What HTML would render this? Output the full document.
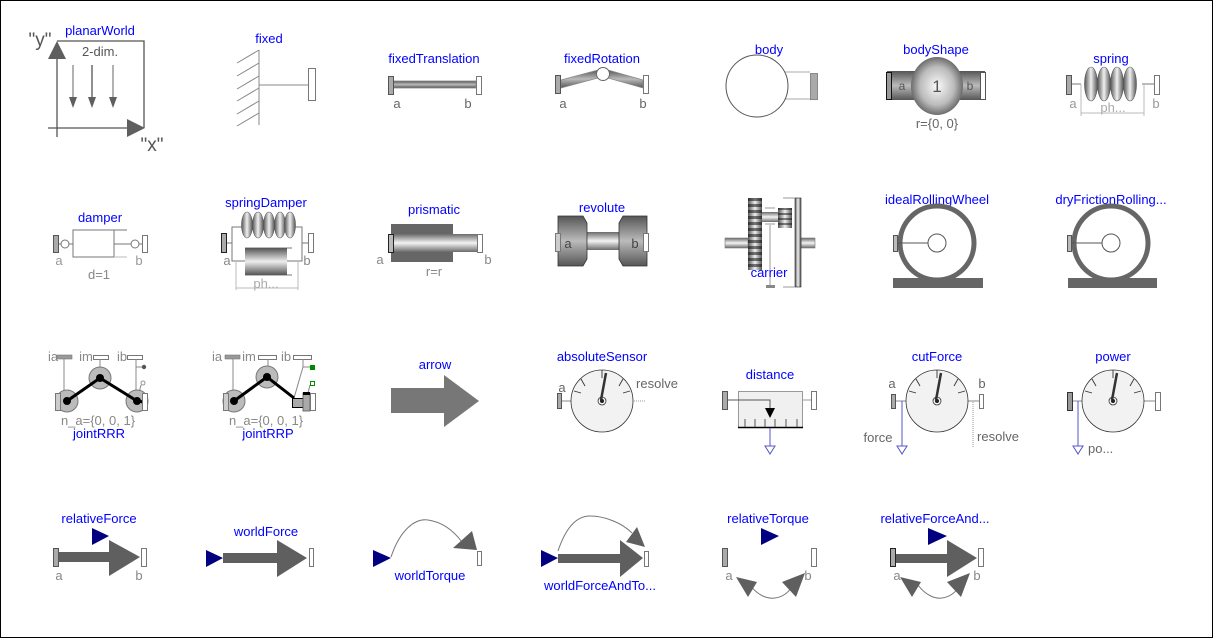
<!DOCTYPE html>
<html><head><meta charset="utf-8"><style>
html,body{margin:0;padding:0;background:#fff;}
svg{display:block;}
text{font-family:"Liberation Sans",Arial,sans-serif;}
.l{fill:#0000ff;font-size:13px;text-anchor:middle;}
.g{fill:#666;font-size:13px;text-anchor:middle;}
</style></head><body>
<svg width="1214" height="639" viewBox="0 0 1214 639" xmlns="http://www.w3.org/2000/svg">
<defs>
<linearGradient id="gv" x1="0" y1="0" x2="0" y2="1"><stop offset="0" stop-color="#6a6a6a"/><stop offset="0.5" stop-color="#f4f4f4"/><stop offset="1" stop-color="#6a6a6a"/></linearGradient>
<linearGradient id="gvd" x1="0" y1="0" x2="0" y2="1"><stop offset="0" stop-color="#555"/><stop offset="0.5" stop-color="#bbb"/><stop offset="1" stop-color="#555"/></linearGradient>
<linearGradient id="gh" x1="0" y1="0" x2="1" y2="0"><stop offset="0" stop-color="#555"/><stop offset="0.5" stop-color="#f0f0f0"/><stop offset="1" stop-color="#555"/></linearGradient>
<radialGradient id="gs" cx="0.5" cy="0.5" r="0.55"><stop offset="0" stop-color="#fafafa"/><stop offset="0.6" stop-color="#bbb"/><stop offset="1" stop-color="#555"/></radialGradient>
<linearGradient id="gc" x1="0" y1="0" x2="0" y2="1"><stop offset="0" stop-color="#555"/><stop offset="0.5" stop-color="#eee"/><stop offset="1" stop-color="#555"/></linearGradient>
</defs>
<rect x="0.5" y="0.5" width="1212" height="637" fill="#fff" stroke="#000"/>

<!-- planarWorld -->
<text x="100" y="35" class="l">planarWorld</text>
<text x="40" y="46" style="fill:#555;font-size:19px;text-anchor:middle">"y"</text>
<text x="152" y="151" style="fill:#555;font-size:19px;text-anchor:middle">"x"</text>
<text x="100" y="56" style="fill:#555;font-size:13px;text-anchor:middle">2-dim.</text>
<g stroke="#555" fill="none" stroke-width="1.3">
<line x1="57" y1="56" x2="57" y2="137"/>
<line x1="48" y1="128" x2="130" y2="128"/>
<polyline points="57,41 144,41 144,128"/>
<line x1="73" y1="65" x2="73" y2="100" stroke="#888"/>
<line x1="92" y1="65" x2="92" y2="100"/>
<line x1="113" y1="65" x2="113" y2="100" stroke="#888"/>
</g>
<g fill="#5f5f5f">
<polygon points="57,41 48,59 66,59"/>
<polygon points="145,128 127,119 127,137"/>
<polygon points="69,97 77,97 73,108"/>
<polygon points="88,97 96,97 92,108"/>
<polygon points="109,97 117,97 113,108"/>
</g>

<!-- fixed -->
<text x="269" y="43" class="l">fixed</text>
<g stroke="#888" stroke-width="1">
<line x1="259" y1="50" x2="259" y2="125"/>
<line x1="237" y1="63" x2="259" y2="50"/>
<line x1="237" y1="76" x2="259" y2="63"/>
<line x1="237" y1="89" x2="259" y2="76"/>
<line x1="237" y1="101" x2="259" y2="88"/>
<line x1="237" y1="114" x2="259" y2="101"/>
<line x1="237" y1="126" x2="259" y2="113"/>
<line x1="259" y1="85" x2="308" y2="85"/>
</g>
<rect x="308.5" y="68.5" width="7" height="32" fill="#fff" stroke="#777"/>

<!-- fixedTranslation -->
<text x="434" y="63" class="l">fixedTranslation</text>
<rect x="393" y="81" width="83" height="7" fill="url(#gvd)" stroke="#888" stroke-width="0.8"/>
<rect x="388.5" y="76.5" width="5" height="18" fill="#aaa" stroke="#555"/>
<rect x="476.5" y="76.5" width="5" height="18" fill="#fff" stroke="#777"/>
<text x="397" y="108" class="g">a</text>
<text x="468" y="108" class="g">b</text>

<!-- fixedRotation -->
<text x="602" y="63" class="l">fixedRotation</text>
<polygon points="561,80 598,70 598,78 561,88" fill="url(#gvd)" stroke="#888" stroke-width="0.8"/>
<polygon points="608,70 643,80 643,88 608,78" fill="url(#gvd)" stroke="#888" stroke-width="0.8"/>
<circle cx="603" cy="74" r="6.5" fill="#fff" stroke="#666"/>
<rect x="555.5" y="75.5" width="5" height="18" fill="#aaa" stroke="#555"/>
<rect x="643.5" y="75.5" width="5" height="18" fill="#fff" stroke="#777"/>
<text x="563" y="108" class="g">a</text>
<text x="643" y="108" class="g">b</text>

<!-- body -->
<text x="769" y="54" class="l">body</text>
<polyline points="776,72 810,72" stroke="#aaa" fill="none"/>
<polyline points="776,99 810,99" stroke="#aaa" fill="none"/>
<circle cx="757" cy="86" r="31" fill="#fff" stroke="#555"/>
<rect x="810.5" y="73.5" width="7" height="26" fill="#aaa" stroke="#888"/>

<!-- bodyShape -->
<text x="936" y="54" class="l">bodyShape</text>
<rect x="887" y="71" width="98" height="29" fill="url(#gvd)"/>
<ellipse cx="937" cy="86" rx="26" ry="29" fill="url(#gs)"/>
<rect x="886.5" y="72.5" width="5" height="27" fill="#999" stroke="#111"/>
<rect x="980.5" y="72.5" width="5" height="27" fill="#fff" stroke="#555"/>
<text x="902" y="90" style="fill:#555;font-size:12px;text-anchor:middle">a</text>
<text x="970" y="90" style="fill:#555;font-size:12px;text-anchor:middle">b</text>
<text x="937" y="92" style="fill:#555;font-size:17px;text-anchor:middle">1</text>
<text x="937" y="128" class="g">r={0, 0}</text>

<!-- spring -->
<text x="1111" y="63" class="l">spring</text>
<g stroke="#777" fill="none">
<line x1="1071" y1="84" x2="1081" y2="84"/>
<line x1="1081" y1="84" x2="1081" y2="116" stroke="#bbb"/>
<line x1="1142" y1="84" x2="1154" y2="84"/>
<line x1="1144" y1="84" x2="1144" y2="116" stroke="#bbb"/>
<line x1="1081" y1="113" x2="1144" y2="113" stroke="#bbb"/>
</g>
<g fill="url(#gh)" stroke="#555" stroke-width="0.6">
<ellipse cx="1091" cy="84" rx="6.5" ry="17"/>
<ellipse cx="1104" cy="84" rx="6.5" ry="17"/>
<ellipse cx="1117" cy="84" rx="6.5" ry="17"/>
<ellipse cx="1130" cy="84" rx="6.5" ry="17"/>
</g>
<rect x="1066.5" y="75.5" width="5" height="19" fill="#aaa" stroke="#555"/>
<rect x="1154.5" y="75.5" width="5" height="19" fill="#fff" stroke="#777"/>
<text x="1073" y="108" style="fill:#999;font-size:13px;text-anchor:middle">a</text>
<text x="1156" y="108" style="fill:#999;font-size:13px;text-anchor:middle">b</text>
<text x="1113" y="112" style="fill:#aaa;font-size:13px;text-anchor:middle">ph...</text>

<!-- damper -->
<text x="100" y="222" class="l">damper</text>
<g stroke="#777" fill="none">
<line x1="59" y1="244" x2="61" y2="244"/>
<circle cx="65" cy="244" r="4" fill="#fff"/>
<line x1="69" y1="244" x2="73" y2="244"/>
<polyline points="127,230 73,230 73,257 114,257"/>
<line x1="114" y1="230" x2="114" y2="257"/>
<line x1="114" y1="257" x2="127" y2="257" stroke="#bbb"/>
<line x1="114" y1="244" x2="131" y2="244"/>
<circle cx="135" cy="244" r="4" fill="#fff"/>
<line x1="139" y1="244" x2="142" y2="244"/>
</g>
<rect x="53.5" y="235.5" width="5" height="17" fill="#aaa" stroke="#555"/>
<rect x="142.5" y="235.5" width="5" height="17" fill="#fff" stroke="#777"/>
<text x="59" y="265" style="fill:#999;font-size:13px;text-anchor:middle">a</text>
<text x="139" y="265" style="fill:#999;font-size:13px;text-anchor:middle">b</text>
<text x="99" y="279" style="fill:#888;font-size:13px;text-anchor:middle">d=1</text>

<!-- springDamper -->
<text x="266" y="207" class="l">springDamper</text>
<g stroke="#777" fill="none">
<line x1="226" y1="243" x2="232" y2="243"/>
<polyline points="242,227 232,227 232,261 245,261"/>
<polyline points="294,227 302,227 302,261 287,261"/>
<line x1="302" y1="243" x2="308" y2="243"/>
<line x1="245" y1="248" x2="292" y2="248"/>
<line x1="245" y1="275" x2="292" y2="275"/>
<line x1="236" y1="262" x2="236" y2="290" stroke="#bbb"/>
<line x1="298" y1="262" x2="298" y2="290" stroke="#bbb"/>
<line x1="236" y1="288" x2="298" y2="288" stroke="#bbb"/>
</g>
<g fill="url(#gh)" stroke="#555" stroke-width="0.6">
<ellipse cx="247" cy="225" rx="5.5" ry="13"/>
<ellipse cx="258" cy="225" rx="5.5" ry="13"/>
<ellipse cx="269" cy="225" rx="5.5" ry="13"/>
<ellipse cx="280" cy="225" rx="5.5" ry="13"/>
<ellipse cx="290" cy="225" rx="5.5" ry="13"/>
</g>
<rect x="245" y="248" width="42" height="27" fill="url(#gc)"/>
<rect x="221.5" y="233.5" width="5" height="19" fill="#aaa" stroke="#222"/>
<rect x="308.5" y="233.5" width="5" height="19" fill="#fff" stroke="#777"/>
<text x="227" y="265" style="fill:#888;font-size:13px;text-anchor:middle">a</text>
<text x="307" y="265" style="fill:#888;font-size:13px;text-anchor:middle">b</text>
<text x="266" y="288" style="fill:#aaa;font-size:13px;text-anchor:middle">ph...</text>

<!-- prismatic -->
<text x="434" y="214" class="l">prismatic</text>
<rect x="391" y="224" width="62" height="38" fill="#666"/>
<rect x="391" y="234" width="86" height="18" fill="url(#gv)"/>
<rect x="388.5" y="234.5" width="5" height="18" fill="#bbb" stroke="#222"/>
<rect x="477.5" y="234.5" width="5" height="18" fill="#fff" stroke="#777"/>
<text x="380" y="264" style="fill:#888;font-size:13px;text-anchor:middle">a</text>
<text x="488" y="264" style="fill:#888;font-size:13px;text-anchor:middle">b</text>
<text x="434" y="276" style="fill:#888;font-size:13px;text-anchor:middle">r=r</text>

<!-- revolute -->
<text x="602" y="212" class="l">revolute</text>
<rect x="586" y="232" width="34" height="18" fill="url(#gv)"/>
<polygon points="558,216 583,216 587,223 587,259 583,266 558,266" fill="url(#gvd)" stroke="#333" stroke-width="0.8"/>
<polygon points="623,216 647,216 647,266 623,266 619,259 619,223" fill="url(#gvd)" stroke="#333" stroke-width="0.8"/>
<rect x="555.5" y="233.5" width="5" height="18" fill="#ccc" stroke="#777"/>
<rect x="643.5" y="233.5" width="5" height="18" fill="#fff" stroke="#777"/>
<text x="568" y="248" style="fill:#444;font-size:13px;text-anchor:middle">a</text>
<text x="635" y="248" style="fill:#444;font-size:13px;text-anchor:middle">b</text>

<!-- planetary / carrier -->
<rect x="725" y="238" width="23" height="10" fill="url(#gv)" stroke="#777" stroke-width="0.6"/>
<rect x="801" y="238" width="14" height="10" fill="url(#gv)" stroke="#777" stroke-width="0.6"/>
<rect x="762" y="212" width="16" height="10" fill="url(#gv)"/>
<rect x="748" y="198" width="14" height="72" fill="url(#gh)"/>
<line x1="755" y1="198" x2="755" y2="270" stroke="#111" stroke-width="14" stroke-dasharray="3 3" opacity="0.55"/>
<rect x="778" y="208" width="14" height="20" fill="url(#gh)"/>
<line x1="785" y1="208" x2="785" y2="228" stroke="#111" stroke-width="14" stroke-dasharray="2 3" opacity="0.5"/>
<rect x="795" y="198" width="6" height="89" fill="url(#gh)" stroke="#222" stroke-width="0.6"/>
<g stroke="#999" fill="none">
<line x1="783" y1="198" x2="795" y2="198"/>
<line x1="783" y1="287" x2="795" y2="287"/>
<line x1="770" y1="225" x2="770" y2="285"/>
<line x1="765" y1="208" x2="775" y2="208"/>
<line x1="765" y1="224" x2="775" y2="224"/>
</g>
<rect x="766" y="285" width="9" height="3" fill="#888"/>
<text x="769" y="277" class="l">carrier</text>

<!-- idealRollingWheel -->
<text x="937" y="204" class="l">idealRollingWheel</text>
<circle cx="937" cy="243" r="37" fill="none" stroke="#666" stroke-width="5"/>
<line x1="897" y1="243" x2="928" y2="243" stroke="#555"/>
<circle cx="937" cy="243" r="9" fill="#fff" stroke="#555"/>
<rect x="893.5" y="235.5" width="4" height="16" fill="#bbb" stroke="#555"/>
<rect x="893" y="278" width="90" height="10" fill="#666"/>

<!-- dryFrictionRolling -->
<text x="1111" y="204" class="l">dryFrictionRolling...</text>
<circle cx="1111" cy="243" r="37" fill="none" stroke="#666" stroke-width="5"/>
<line x1="1071" y1="243" x2="1102" y2="243" stroke="#555"/>
<circle cx="1111" cy="243" r="9" fill="#fff" stroke="#555"/>
<rect x="1067.5" y="235.5" width="4" height="16" fill="#bbb" stroke="#555"/>
<rect x="1068" y="278" width="89" height="10" fill="#666"/>

<!-- jointRRR -->
<text x="53" y="361" style="fill:#888;font-size:13px;text-anchor:middle">ia</text>
<rect x="57" y="355" width="15" height="4" fill="#999" stroke="#777" stroke-width="0.6"/>
<text x="86" y="361" style="fill:#888;font-size:13px;text-anchor:middle">im</text>
<rect x="93.5" y="355.5" width="15" height="4" fill="#fff" stroke="#777"/>
<text x="122" y="361" style="fill:#888;font-size:13px;text-anchor:middle">ib</text>
<rect x="127.5" y="355.5" width="15" height="4" fill="#fff" stroke="#777"/>
<g stroke="#888" fill="none">
<line x1="64" y1="359" x2="64" y2="395"/>
<line x1="100" y1="359" x2="100" y2="372"/>
<line x1="136" y1="359" x2="136" y2="392"/>
<line x1="136" y1="367" x2="142" y2="367"/>
<line x1="141" y1="385" x2="139" y2="393"/>
</g>
<circle cx="144" cy="367" r="2.2" fill="#555"/>
<circle cx="143" cy="383" r="2" fill="#fff" stroke="#777" stroke-width="0.8"/>
<circle cx="67" cy="401" r="11" fill="#bbb" stroke="#777"/>
<circle cx="100" cy="378" r="11" fill="#bbb" stroke="#777"/>
<circle cx="137" cy="401" r="11" fill="#bbb" stroke="#777"/>
<polyline points="67,401 100,378 137,401" fill="none" stroke="#000" stroke-width="3"/>
<line x1="137" y1="401" x2="144" y2="402" stroke="#000" stroke-width="3"/>
<circle cx="67" cy="401" r="4" fill="#000"/>
<circle cx="100" cy="378" r="4" fill="#000"/>
<circle cx="137" cy="401" r="4" fill="#000"/>
<rect x="55.5" y="393.5" width="5" height="17" fill="#ccc" stroke="#777"/>
<rect x="142.5" y="393.5" width="5" height="17" fill="#fff" stroke="#777"/>
<text x="98" y="425" style="fill:#888;font-size:13px;text-anchor:middle">n_a={0, 0, 1}</text>
<text x="99" y="438" class="l">jointRRR</text>

<!-- jointRRP -->
<text x="217" y="361" style="fill:#888;font-size:13px;text-anchor:middle">ia</text>
<rect x="225" y="355" width="15" height="4" fill="#999" stroke="#777" stroke-width="0.6"/>
<text x="249" y="361" style="fill:#888;font-size:13px;text-anchor:middle">im</text>
<rect x="258.5" y="355.5" width="18" height="4" fill="#fff" stroke="#777"/>
<text x="286" y="361" style="fill:#888;font-size:13px;text-anchor:middle">ib</text>
<rect x="293.5" y="355.5" width="18" height="4" fill="#fff" stroke="#777"/>
<g stroke="#888" fill="none">
<line x1="233" y1="359" x2="233" y2="395"/>
<line x1="268" y1="359" x2="268" y2="372"/>
<line x1="303" y1="359" x2="303" y2="367"/>
<line x1="303" y1="367" x2="310" y2="367"/>
<line x1="303" y1="367" x2="294" y2="398"/>
<line x1="310" y1="385" x2="308" y2="393"/>
</g>
<rect x="310" y="365" width="5" height="5" fill="#080"/>
<rect x="310.5" y="381.5" width="4" height="4" fill="#fff" stroke="#080"/>
<circle cx="234" cy="401" r="11" fill="#bbb" stroke="#777"/>
<circle cx="267" cy="377" r="11" fill="#bbb" stroke="#777"/>
<polyline points="234,401 267,377 294,398" fill="none" stroke="#000" stroke-width="3"/>
<circle cx="234" cy="401" r="4" fill="#000"/>
<circle cx="267" cy="377" r="4" fill="#000"/>
<rect x="292.5" y="398.5" width="11" height="9" fill="#aaa" stroke="#000"/>
<rect x="303" y="393" width="7" height="18" fill="#aaa" stroke="#555" stroke-width="0.8"/>
<rect x="303" y="392" width="7" height="3" fill="#000"/>
<rect x="223.5" y="393.5" width="5" height="17" fill="#ccc" stroke="#777"/>
<rect x="310.5" y="393.5" width="5" height="17" fill="#fff" stroke="#777"/>
<text x="266" y="425" style="fill:#888;font-size:13px;text-anchor:middle">n_a={0, 0, 1}</text>
<text x="268" y="438" class="l">jointRRP</text>

<!-- arrow -->
<text x="435" y="369" class="l">arrow</text>
<polygon points="391,388 444,388 444,375 479,401 444,427 444,413 391,413" fill="#777"/>

<!-- absoluteSensor -->
<text x="602" y="361" class="l">absoluteSensor</text>
<line x1="562" y1="401" x2="572" y2="401" stroke="#888"/>
<line x1="634" y1="401" x2="646" y2="401" stroke="#999" stroke-dasharray="1 1"/>
<circle cx="602" cy="401" r="31" fill="#f2f2f2" stroke="#333" stroke-width="0.8"/>
<g stroke="#333" stroke-width="0.9">
<line x1="602" y1="370" x2="602" y2="378"/>
<line x1="581" y1="379" x2="585" y2="386"/>
<line x1="623" y1="379" x2="619" y2="386"/>
<line x1="574" y1="391" x2="581" y2="393"/>
<line x1="630" y1="391" x2="623" y2="393"/>
</g>
<line x1="601" y1="400" x2="606" y2="373" stroke="#333" stroke-width="2.5"/>
<circle cx="602" cy="401" r="4" fill="none" stroke="#333" stroke-width="0.8"/>
<circle cx="602" cy="401" r="2" fill="#222"/>
<rect x="557.5" y="393.5" width="4" height="15" fill="#aaa" stroke="#555"/>
<text x="562" y="392" class="g">a</text>
<text x="657" y="388" class="g">resolve</text>

<!-- distance -->
<text x="770" y="379" class="l">distance</text>
<rect x="738.5" y="391.5" width="64" height="36" fill="#f0f0f0" stroke="#999"/>
<line x1="738" y1="427.5" x2="803" y2="427.5" stroke="#000" stroke-width="1.5"/>
<g stroke="#555">
<line x1="745" y1="419" x2="745" y2="427"/>
<line x1="755" y1="419" x2="755" y2="427"/>
<line x1="765" y1="419" x2="765" y2="427"/>
<line x1="775" y1="419" x2="775" y2="427"/>
<line x1="786" y1="419" x2="786" y2="427"/>
<line x1="797" y1="419" x2="797" y2="427"/>
</g>
<polyline points="727,400 770,400 770,410" fill="none" stroke="#555"/>
<polygon points="765,408 775,408 770,418" fill="#000"/>
<line x1="802" y1="400" x2="811" y2="400" stroke="#999"/>
<rect x="722.5" y="391.5" width="5" height="18" fill="#aaa" stroke="#555"/>
<rect x="811.5" y="391.5" width="5" height="18" fill="#fff" stroke="#777"/>
<line x1="770" y1="428" x2="770" y2="446" stroke="#55c"/>
<polygon points="765,446 775,446 770,454" fill="#fff" stroke="#55c"/>

<!-- cutForce -->
<text x="937" y="361" class="l">cutForce</text>
<line x1="896" y1="401" x2="906" y2="401" stroke="#888"/>
<line x1="968" y1="401" x2="979" y2="401" stroke="#888"/>
<circle cx="937" cy="401" r="31" fill="#f2f2f2" stroke="#333" stroke-width="0.8"/>
<g stroke="#333" stroke-width="0.9">
<line x1="937" y1="370" x2="937" y2="378"/>
<line x1="916" y1="379" x2="920" y2="386"/>
<line x1="958" y1="379" x2="954" y2="386"/>
<line x1="909" y1="391" x2="916" y2="393"/>
<line x1="965" y1="391" x2="958" y2="393"/>
</g>
<line x1="936" y1="400" x2="941" y2="373" stroke="#333" stroke-width="2.5"/>
<circle cx="937" cy="401" r="4" fill="none" stroke="#333" stroke-width="0.8"/>
<circle cx="937" cy="401" r="2" fill="#222"/>
<rect x="891.5" y="394.5" width="4" height="14" fill="#aaa" stroke="#555"/>
<rect x="979.5" y="394.5" width="4" height="14" fill="#fff" stroke="#777"/>
<line x1="902" y1="401" x2="902" y2="446" stroke="#55c"/>
<polygon points="897,446 907,446 902,454" fill="#fff" stroke="#55c"/>
<line x1="973" y1="402" x2="973" y2="447" stroke="#999" stroke-dasharray="1 1"/>
<text x="892" y="388" class="g">a</text>
<text x="982" y="388" class="g">b</text>
<text x="878" y="442" class="g">force</text>
<text x="998" y="441" class="g">resolve</text>

<!-- power -->
<text x="1113" y="361" class="l">power</text>
<line x1="1072" y1="401" x2="1082" y2="401" stroke="#888"/>
<line x1="1144" y1="401" x2="1155" y2="401" stroke="#888"/>
<circle cx="1113" cy="401" r="31" fill="#f2f2f2" stroke="#333" stroke-width="0.8"/>
<g stroke="#333" stroke-width="0.9">
<line x1="1113" y1="370" x2="1113" y2="378"/>
<line x1="1092" y1="379" x2="1096" y2="386"/>
<line x1="1134" y1="379" x2="1130" y2="386"/>
<line x1="1085" y1="391" x2="1092" y2="393"/>
<line x1="1141" y1="391" x2="1134" y2="393"/>
</g>
<line x1="1112" y1="400" x2="1117" y2="373" stroke="#333" stroke-width="2.5"/>
<circle cx="1113" cy="401" r="4" fill="none" stroke="#333" stroke-width="0.8"/>
<circle cx="1113" cy="401" r="2" fill="#222"/>
<rect x="1067.5" y="392.5" width="5" height="18" fill="#999" stroke="#333"/>
<rect x="1155.5" y="392.5" width="5" height="18" fill="#fff" stroke="#777"/>
<line x1="1078" y1="401" x2="1078" y2="446" stroke="#55c"/>
<polygon points="1073,446 1083,446 1078,454" fill="#fff" stroke="#55c"/>
<text x="1088" y="453" style="fill:#666;font-size:13px">po...</text>

<!-- relativeForce -->
<text x="99" y="523" class="l">relativeForce</text>
<polygon points="92,528 92,545 109,536" fill="#000080"/>
<polygon points="58,552 109,552 109,540 140,557 109,576 109,562 58,562" fill="#5f5f5f"/>
<rect x="53.5" y="548.5" width="5" height="18" fill="#aaa" stroke="#555"/>
<rect x="141.5" y="548.5" width="5" height="18" fill="#fff" stroke="#777"/>
<text x="59" y="580" style="fill:#888;font-size:13px;text-anchor:middle">a</text>
<text x="139" y="580" style="fill:#888;font-size:13px;text-anchor:middle">b</text>

<!-- worldForce -->
<text x="266" y="536" class="l">worldForce</text>
<polygon points="206,550 206,567 223,558" fill="#000080"/>
<polygon points="223,553 277,553 277,540 307,558 277,577 277,563 223,563" fill="#5f5f5f"/>
<rect x="309.5" y="548.5" width="4" height="18" fill="#fff" stroke="#777"/>

<!-- worldTorque -->
<polygon points="373,550 373,567 391,558" fill="#000080"/>
<path d="M391,557 C400,530 415,518 428,520 C442,522 453,530 462,542" fill="none" stroke="#777"/>
<polygon points="453,548 472,531 477,550" fill="#5f5f5f"/>
<rect x="477.5" y="551.5" width="4" height="14" fill="#fff" stroke="#777"/>
<text x="430" y="580" class="l">worldTorque</text>

<!-- worldForceAndTorque -->
<polygon points="541,550 541,567 558,558" fill="#000080"/>
<path d="M558,551 C565,530 575,516 590,516 C605,516 622,523 632,533" fill="none" stroke="#777"/>
<polygon points="626,542 637,527 645,547" fill="#5f5f5f"/>
<polygon points="558,554 620,554 620,540 643,558 620,577 620,563 558,563" fill="#5f5f5f"/>
<rect x="644.5" y="551.5" width="4" height="15" fill="#fff" stroke="#777"/>
<text x="600" y="590" class="l">worldForceAndTo...</text>

<!-- relativeTorque -->
<text x="768" y="523" class="l">relativeTorque</text>
<polygon points="761,528 761,545 779,536" fill="#000080"/>
<rect x="722.5" y="548.5" width="5" height="18" fill="#aaa" stroke="#555"/>
<rect x="811.5" y="548.5" width="5" height="18" fill="#fff" stroke="#777"/>
<text x="729" y="580" style="fill:#888;font-size:13px;text-anchor:middle">a</text>
<text x="808" y="580" style="fill:#888;font-size:13px;text-anchor:middle">b</text>
<path d="M750,585 C758,596 768,599 775,598 C782,597 787,594 791,588" fill="none" stroke="#777"/>
<polygon points="736,577 757,582 748,597" fill="#5f5f5f"/>
<polygon points="805,573 782,582 796,597" fill="#5f5f5f"/>

<!-- relativeForceAndTorque -->
<text x="935" y="523" class="l">relativeForceAnd...</text>
<polygon points="928,528 928,545 947,536" fill="#000080"/>
<polygon points="895,554 947,554 947,540 977,558 947,577 947,563 895,563" fill="#5f5f5f"/>
<rect x="890.5" y="548.5" width="5" height="18" fill="#aaa" stroke="#222"/>
<rect x="978.5" y="548.5" width="5" height="18" fill="#fff" stroke="#777"/>
<text x="897" y="580" style="fill:#888;font-size:13px;text-anchor:middle">a</text>
<text x="977" y="580" style="fill:#888;font-size:13px;text-anchor:middle">b</text>
<path d="M918,585 C926,596 936,599 942,598 C949,597 954,594 958,588" fill="none" stroke="#777"/>
<polygon points="900,577 921,582 912,597" fill="#5f5f5f"/>
<polygon points="970,573 947,582 961,597" fill="#5f5f5f"/>
</svg>
</body></html>
